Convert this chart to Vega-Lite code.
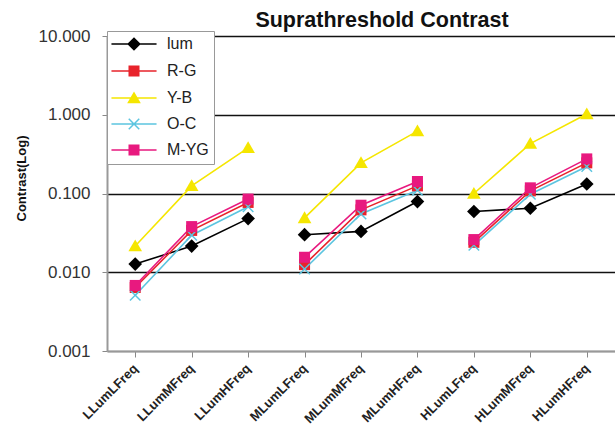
{
  "$schema": "https://vega.github.io/schema/vega-lite/v6.json",
  "autosize": "none",
  "width": 508,
  "height": 315,
  "padding": {"left": 107, "top": 36, "right": 0, "bottom": 80},
  "background": "white",
  "title": {"text": "Suprathreshold Contrast", "font": "Liberation Sans", "fontSize": 21.5, "fontWeight": "bold", "color": "#111", "anchor": "middle", "dx": 21, "offset": -4},
  "config": {"view": {"stroke": null}},
  "data": {"values": [
    {"cat": "LLumLFreq", "grp": "L", "series": "lum", "v": 0.0127},
    {"cat": "LLumMFreq", "grp": "L", "series": "lum", "v": 0.0215},
    {"cat": "LLumHFreq", "grp": "L", "series": "lum", "v": 0.048},
    {"cat": "MLumLFreq", "grp": "M", "series": "lum", "v": 0.030},
    {"cat": "MLumMFreq", "grp": "M", "series": "lum", "v": 0.033},
    {"cat": "MLumHFreq", "grp": "M", "series": "lum", "v": 0.079},
    {"cat": "HLumLFreq", "grp": "H", "series": "lum", "v": 0.059},
    {"cat": "HLumMFreq", "grp": "H", "series": "lum", "v": 0.065},
    {"cat": "HLumHFreq", "grp": "H", "series": "lum", "v": 0.132},
    {"cat": "LLumLFreq", "grp": "L", "series": "R-G", "v": 0.0064},
    {"cat": "LLumMFreq", "grp": "L", "series": "R-G", "v": 0.034},
    {"cat": "LLumHFreq", "grp": "L", "series": "R-G", "v": 0.077},
    {"cat": "MLumLFreq", "grp": "M", "series": "R-G", "v": 0.0125},
    {"cat": "MLumMFreq", "grp": "M", "series": "R-G", "v": 0.062},
    {"cat": "MLumHFreq", "grp": "M", "series": "R-G", "v": 0.125},
    {"cat": "HLumLFreq", "grp": "H", "series": "R-G", "v": 0.024},
    {"cat": "HLumMFreq", "grp": "H", "series": "R-G", "v": 0.108},
    {"cat": "HLumHFreq", "grp": "H", "series": "R-G", "v": 0.245},
    {"cat": "LLumLFreq", "grp": "L", "series": "Y-B", "v": 0.0215},
    {"cat": "LLumMFreq", "grp": "L", "series": "Y-B", "v": 0.125},
    {"cat": "LLumHFreq", "grp": "L", "series": "Y-B", "v": 0.38},
    {"cat": "MLumLFreq", "grp": "M", "series": "Y-B", "v": 0.049},
    {"cat": "MLumMFreq", "grp": "M", "series": "Y-B", "v": 0.245},
    {"cat": "MLumHFreq", "grp": "M", "series": "Y-B", "v": 0.62},
    {"cat": "HLumLFreq", "grp": "H", "series": "Y-B", "v": 0.10},
    {"cat": "HLumMFreq", "grp": "H", "series": "Y-B", "v": 0.43},
    {"cat": "HLumHFreq", "grp": "H", "series": "Y-B", "v": 1.02},
    {"cat": "LLumLFreq", "grp": "L", "series": "O-C", "v": 0.0051},
    {"cat": "LLumMFreq", "grp": "L", "series": "O-C", "v": 0.0295},
    {"cat": "LLumHFreq", "grp": "L", "series": "O-C", "v": 0.068},
    {"cat": "MLumLFreq", "grp": "M", "series": "O-C", "v": 0.011},
    {"cat": "MLumMFreq", "grp": "M", "series": "O-C", "v": 0.055},
    {"cat": "MLumHFreq", "grp": "M", "series": "O-C", "v": 0.11},
    {"cat": "HLumLFreq", "grp": "H", "series": "O-C", "v": 0.022},
    {"cat": "HLumMFreq", "grp": "H", "series": "O-C", "v": 0.098},
    {"cat": "HLumHFreq", "grp": "H", "series": "O-C", "v": 0.22},
    {"cat": "LLumLFreq", "grp": "L", "series": "M-YG", "v": 0.0068},
    {"cat": "LLumMFreq", "grp": "L", "series": "M-YG", "v": 0.038},
    {"cat": "LLumHFreq", "grp": "L", "series": "M-YG", "v": 0.085},
    {"cat": "MLumLFreq", "grp": "M", "series": "M-YG", "v": 0.0155},
    {"cat": "MLumMFreq", "grp": "M", "series": "M-YG", "v": 0.071},
    {"cat": "MLumHFreq", "grp": "M", "series": "M-YG", "v": 0.142},
    {"cat": "HLumLFreq", "grp": "H", "series": "M-YG", "v": 0.026},
    {"cat": "HLumMFreq", "grp": "H", "series": "M-YG", "v": 0.118},
    {"cat": "HLumHFreq", "grp": "H", "series": "M-YG", "v": 0.275}
  ]},
  "encoding": {
    "x": {
      "field": "cat", "type": "nominal",
      "sort": ["LLumLFreq", "LLumMFreq", "LLumHFreq", "MLumLFreq", "MLumMFreq", "MLumHFreq", "HLumLFreq", "HLumMFreq", "HLumHFreq"],
      "scale": {"paddingInner": 0, "paddingOuter": 0},
      "axis": {"title": null, "labelAngle": -45, "labelAlign": "right", "labelBaseline": "middle", "labelFont": "Liberation Sans", "labelFontSize": 13, "labelFontWeight": "bold", "labelColor": "#222", "labelPadding": 9, "bandPosition": 0, "tickSize": 6, "tickColor": "#888", "domainColor": "#999", "domainWidth": 2, "grid": false}
    },
    "y": {
      "field": "v", "type": "quantitative",
      "scale": {"type": "log", "domain": [0.001, 10], "nice": false},
      "axis": {"title": "Contrast(Log)", "titleFont": "Liberation Sans", "titleFontSize": 13, "titleFontWeight": "bold", "titleColor": "#111", "titlePadding": 10, "titleY": 142, "values": [0.001, 0.01, 0.1, 1, 10], "format": ".3f", "labelFont": "Liberation Sans", "labelFontSize": 17, "labelColor": "#333", "labelPadding": 12, "tickSize": 5, "tickColor": "#888", "domainColor": "#999", "domainWidth": 2, "grid": true, "gridColor": {"condition": {"test": "datum.value <= 0.001", "value": "#999"}, "value": "#111"}, "gridWidth": 1.6}
    }
  },
  "layer": [
    {
      "mark": {"type": "line", "strokeWidth": 1.6},
      "encoding": {
        "detail": {"field": "grp"},
        "color": {"field": "series", "type": "nominal", "scale": {"domain": ["lum", "R-G", "Y-B", "O-C", "M-YG"], "range": ["#000000", "#E8232B", "#F5E600", "#5CC5E0", "#E8197F"]}, "legend": null}
      }
    },
    {
      "mark": {"type": "point", "filled": true, "opacity": 1, "size": 110},
      "encoding": {
        "color": {"field": "series", "type": "nominal", "scale": {"domain": ["lum", "R-G", "Y-B", "O-C", "M-YG"], "range": ["#000000", "#E8232B", "#F5E600", "#5CC5E0", "#E8197F"]}, "legend": null},
        "shape": {
          "field": "series", "type": "nominal",
          "scale": {"domain": ["lum", "R-G", "Y-B", "O-C", "M-YG"], "range": ["M0,-1.3L1.3,0L0,1.3L-1.3,0Z", "M-1.05,-1.05H1.05V1.05H-1.05Z", "M0,-1.25L1.3,1L-1.3,1Z", "M-1.1,-0.9L-0.9,-1.1L0,-0.2L0.9,-1.1L1.1,-0.9L0.2,0L1.1,0.9L0.9,1.1L0,0.2L-0.9,1.1L-1.1,0.9L-0.2,0Z", "M-1.05,-1.05H1.05V1.05H-1.05Z"]},
          "legend": null
        }
      }
    },
    {
      "transform": [{"filter": "datum.v < 0"}],
      "mark": {"type": "point", "filled": true, "opacity": 1, "size": 110},
      "encoding": {
        "color": {"field": "series", "type": "nominal", "scale": {"domain": ["lum", "R-G", "Y-B", "O-C", "M-YG"], "range": ["#000000", "#E8232B", "#F5E600", "#5CC5E0", "#E8197F"]},
          "legend": {"title": null, "orient": "none", "legendX": 0, "legendY": -5, "fillColor": "white", "strokeColor": "#999", "padding": 5, "rowPadding": 8, "labelFont": "Liberation Sans", "labelFontSize": 16, "labelColor": "#222", "symbolSize": 110, "symbolOffset": 14, "labelOffset": 25, "symbolOpacity": 1}},
        "shape": {
          "field": "series", "type": "nominal",
          "scale": {"domain": ["lum", "R-G", "Y-B", "O-C", "M-YG"], "range": [
            "M-4.3,-0.14H4.3V0.14H-4.3Z M0,-1.3L1.3,0L0,1.3L-1.3,0Z",
            "M-4.3,-0.14H4.3V0.14H-4.3Z M-1.05,-1.05H1.05V1.05H-1.05Z",
            "M-4.3,-0.14H4.3V0.14H-4.3Z M0,-1.25L1.3,1L-1.3,1Z",
            "M-4.3,-0.14H4.3V0.14H-4.3Z M-1.1,-0.9L-0.9,-1.1L0,-0.2L0.9,-1.1L1.1,-0.9L0.2,0L1.1,0.9L0.9,1.1L0,0.2L-0.9,1.1L-1.1,0.9L-0.2,0Z",
            "M-4.3,-0.14H4.3V0.14H-4.3Z M-1.05,-1.05H1.05V1.05H-1.05Z"]},
          "legend": {"title": null, "orient": "none", "legendX": 0, "legendY": -5, "fillColor": "white", "strokeColor": "#999", "padding": 5, "rowPadding": 8, "labelFont": "Liberation Sans", "labelFontSize": 16, "labelColor": "#222", "symbolSize": 110, "symbolOffset": 14, "labelOffset": 25, "symbolOpacity": 1}
        }
      }
    }
  ],
  "resolve": {"scale": {"color": "independent", "shape": "independent"}}
}
